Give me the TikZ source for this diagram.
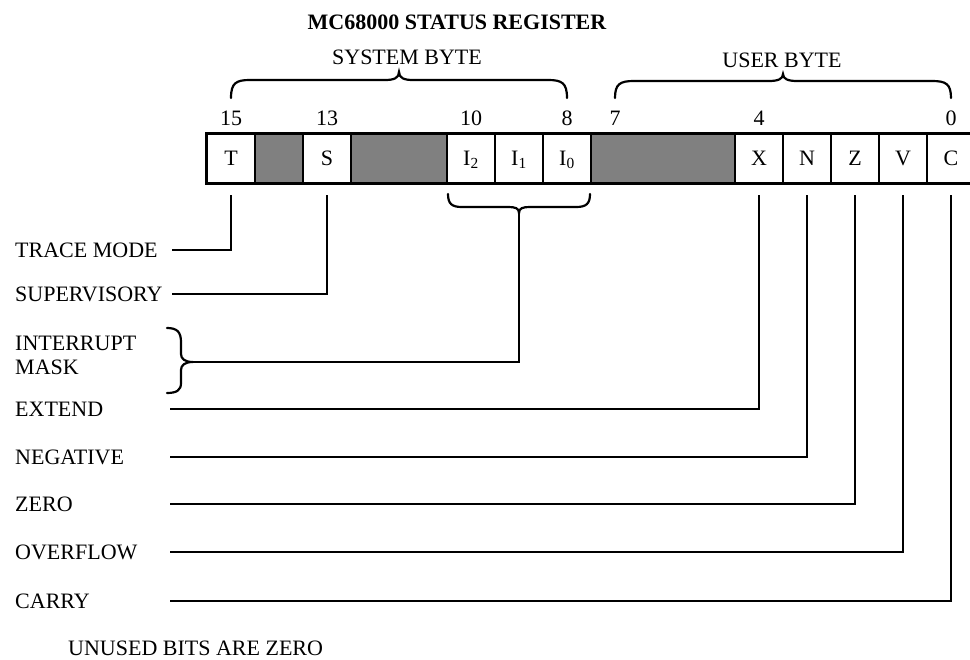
\documentclass[tikz,border=0pt]{standalone}
\usepackage{fontspec}
\setmainfont{Liberation Serif}
\begin{document}
\begin{tikzpicture}[x=1pt,y=-1pt,
  lbl/.style={font=\fontsize{22}{24}\selectfont, inner sep=0pt, text height=14.6pt, text depth=0pt},
  ttl/.style={font=\bfseries\fontsize{22}{24}\selectfont, inner sep=0pt, text height=14.6pt, text depth=0pt},
  cell/.style={draw, line width=1.6pt, minimum width=48pt, minimum height=49pt, inner sep=0pt,
               text height=14.6pt, text depth=0pt, font=\fontsize{22}{24}\selectfont},
  unusedcell/.style={cell, fill=black!50},
  wire/.style={line width=2.2pt},
  brc/.style={line width=2.2pt, line cap=round}
]
\useasboundingbox (0,0) rectangle (970,660);
\clip (0,0) rectangle (970,660);

% title and byte names
\node[ttl] (title) at (457,22) {MC68000 STATUS REGISTER};
\node[lbl] (sysbyte) at (407,57) {SYSTEM BYTE};
\node[lbl] (usrbyte) at (782,60) {USER BYTE};

% braces over bytes
\draw[brc] (231,98) .. controls (231,83) and (236,80) .. (250,80) -- (385,80)
  .. controls (394,80) and (399,78) .. (399,72)
  .. controls (399,78) and (404,80) .. (413,80) -- (548,80)
  .. controls (562,80) and (567,83) .. (567,98);
\draw[brc] (615,98) .. controls (615,84) and (620,81) .. (634,81) -- (769,81)
  .. controls (778,81) and (783,79) .. (783,74)
  .. controls (783,79) and (788,81) .. (797,81) -- (932,81)
  .. controls (946,81) and (951,84) .. (951,98);

% bit numbers
\node[lbl] (n15) at (231,118) {15};
\node[lbl] (n13) at (327,118) {13};
\node[lbl] (n10) at (471,118) {10};
\node[lbl] (n8)  at (567,118) {8};
\node[lbl] (n7)  at (615,118) {7};
\node[lbl] (n4)  at (759,118) {4};
\node[lbl] (n0)  at (951,118) {0};

% register cells
\node[cell] (b15) at (231,158.5) {T};
\node[unusedcell] (b14) at (279,158.5) {};
\node[cell] (b13) at (327,158.5) {S};
\node[unusedcell, minimum width=96pt] (b12) at (399,158.5) {};
\node[cell] (b10) at (471,158.5) {I\textsubscript{2}};
\node[cell] (b9)  at (519,158.5) {I\textsubscript{1}};
\node[cell] (b8)  at (567,158.5) {I\textsubscript{0}};
\node[unusedcell, minimum width=144pt] (b7) at (663,158.5) {};
\node[cell] (b4) at (759,158.5) {X};
\node[cell] (b3) at (807,158.5) {N};
\node[cell] (b2) at (855,158.5) {Z};
\node[cell] (b1) at (903,158.5) {V};
\node[cell] (b0) at (951,158.5) {C};
\draw[line width=2.2pt] (b15.north west) rectangle (b0.south east);

% labels
\node[lbl, anchor=west] (trace) at (15,250) {TRACE MODE};
\node[lbl, anchor=west] (super) at (15,294) {SUPERVISORY};
\node[lbl, anchor=west] (intr)  at (15,343) {INTERRUPT};
\node[lbl, anchor=west] (mask)  at (15,367) {MASK};
\node[lbl, anchor=west] (extend) at (15,409) {EXTEND};
\node[lbl, anchor=west] (neg)   at (15,457) {NEGATIVE};
\node[lbl, anchor=west] (zero)  at (15,504) {ZERO};
\node[lbl, anchor=west] (over)  at (15,552) {OVERFLOW};
\node[lbl, anchor=west] (carry) at (15,601) {CARRY};
\node[lbl, anchor=west] (note)  at (68,648) {UNUSED BITS ARE ZERO};

% connector start points
\coordinate (wT) at (172,250);
\coordinate (wS) at (172,294);
\coordinate (wX) at (170,409);
\coordinate (wN) at (170,457);
\coordinate (wZ) at (170,504);
\coordinate (wV) at (170,552);
\coordinate (wC) at (170,601);

\draw[wire] (wT) -| ([yshift=-11pt]b15.south);
\draw[wire] (wS) -| ([yshift=-11pt]b13.south);
\draw[wire] (wX) -| ([yshift=-11pt]b4.south);
\draw[wire] (wN) -| ([yshift=-11pt]b3.south);
\draw[wire] (wZ) -| ([yshift=-11pt]b2.south);
\draw[wire] (wV) -| ([yshift=-11pt]b1.south);
\draw[wire] (wC) -| ([yshift=-11pt]b0.south);

% interrupt mask braces
\coordinate (ibt) at (519,213);
\coordinate (mbt) at (193,362);
\draw[brc] (448,194) .. controls (448,204) and (452,207) .. (462,207) -- (508,207)
  .. controls (515,207) and (519,208) .. (ibt)
  .. controls (519,208) and (523,207) .. (530,207) -- (576,207)
  .. controls (586,207) and (590,204) .. (590,194);
\draw[brc] (167,328) .. controls (177,328) and (181,332) .. (181,342) -- (181,354)
  .. controls (181,359) and (185,362) .. (mbt)
  .. controls (185,362) and (181,365) .. (181,370) -- (181,383)
  .. controls (181,390) and (177,393) .. (167,393);
\draw[wire] (ibt) |- (mbt);
\end{tikzpicture}
\end{document}
